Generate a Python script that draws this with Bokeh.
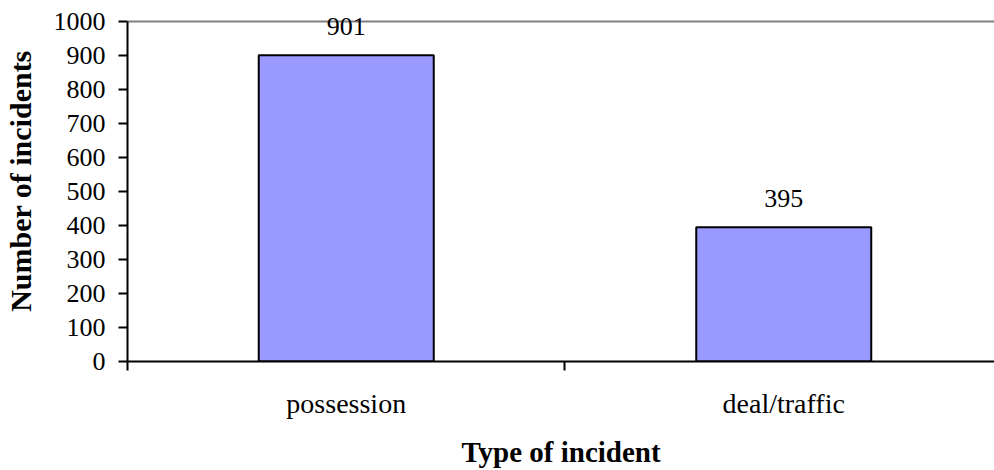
from bokeh.plotting import figure
from bokeh.models import Range1d, FixedTicker, ColumnDataSource, LabelSet
from bokeh.embed import file_html
from bokeh.resources import INLINE

categories = ["possession", "deal/traffic"]
counts = [901, 395]
y_ticks = [0, 100, 200, 300, 400, 500, 600, 700, 800, 900, 1000]

FONT = "Liberation Serif"
centers = [i + 0.5 for i in range(len(categories))]
boundaries = list(range(len(categories) + 1))
y_max = y_ticks[-1]

src = ColumnDataSource(dict(x=centers, top=counts, label=[str(c) for c in counts]))

# frame: 361 px tall, 340 px per 1000 units -> extra headroom above the top gridline
p = figure(width=994, height=470, output_backend="svg", toolbar_location=None,
           x_range=Range1d(0, 868 / 438), y_range=Range1d(0, y_max * 361 / 340),
           min_border_left=126, min_border_right=0, min_border_top=0, min_border_bottom=109)
p.outline_line_color = None
p.background_fill_color = "white"
p.border_fill_color = "white"

p.vbar(x="x", top="top", width=0.4, bottom=0, source=src,
       fill_color="#9999FF", line_color="black", line_width=2)

labels = LabelSet(x="x", y="top", text="label", source=src, text_align="center",
                  text_baseline="alphabetic", y_offset=20, text_font=FONT,
                  text_font_size="26px", text_color="black", level="overlay")
p.add_layout(labels)

# x axis
p.xaxis.ticker = FixedTicker(ticks=centers, minor_ticks=boundaries)
p.xaxis.major_label_overrides = {c: n for c, n in zip(centers, categories)}
p.xaxis.major_tick_line_color = None
p.xaxis.major_tick_in = 0
p.xaxis.major_tick_out = 0
p.xaxis.minor_tick_in = 0
p.xaxis.minor_tick_out = 9
p.xaxis.minor_tick_line_width = 2
p.xaxis.minor_tick_line_color = "black"
p.xaxis.axis_line_width = 2
p.xaxis.axis_line_color = "black"
p.xaxis.major_label_text_font = FONT
p.xaxis.major_label_text_font_size = "28px"
p.xaxis.major_label_text_color = "black"
p.xaxis.major_label_standoff = 17
p.xaxis.axis_label = "Type of incident"
p.xaxis.axis_label_text_font = FONT
p.xaxis.axis_label_text_font_size = "29px"
p.xaxis.axis_label_text_font_style = "bold"
p.xaxis.axis_label_text_color = "black"
p.xaxis.axis_label_standoff = 14

# y axis
p.yaxis.bounds = (0, y_max)
p.yaxis.ticker = FixedTicker(ticks=y_ticks, minor_ticks=[])
p.yaxis.major_tick_in = 0
p.yaxis.major_tick_out = 9
p.yaxis.major_tick_line_width = 2
p.yaxis.axis_line_width = 2
p.yaxis.axis_line_color = "black"
p.yaxis.major_label_text_font = FONT
p.yaxis.major_label_text_font_size = "26px"
p.yaxis.major_label_text_color = "black"
p.yaxis.major_label_standoff = 13
p.yaxis.axis_label = "Number of incidents"
p.yaxis.axis_label_text_font = FONT
p.yaxis.axis_label_text_font_size = "30px"
p.yaxis.axis_label_text_font_style = "bold"
p.yaxis.axis_label_text_color = "black"
p.yaxis.axis_label_standoff = 14

p.xgrid.visible = False
p.ygrid.ticker = FixedTicker(ticks=[y_max])
p.ygrid.grid_line_color = "#808080"
p.ygrid.grid_line_width = 2

open("out.html", "w").write(file_html(p, INLINE))
